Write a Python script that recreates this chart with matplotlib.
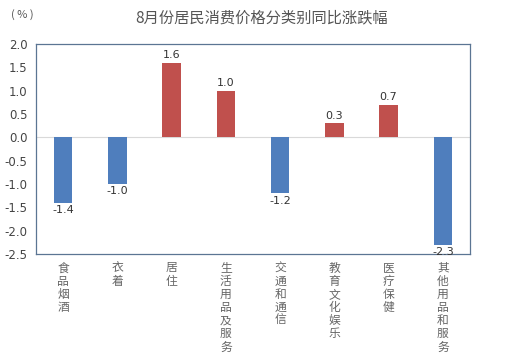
import numpy as np
import matplotlib.pyplot as plt

plt.rcParams['font.family'] = ['Noto Sans CJK SC', 'DejaVu Sans']

categories = ['食品烟酒', '衣着', '居住', '生活用品及服务', '交通和通信', '教育文化娱乐', '医疗保健', '其他用品和服务']
values = [-1.4, -1.0, 1.6, 1.0, -1.2, 0.3, 0.7, -2.3]

blue = '#4F7EBD'
red = '#C0504D'
colors = [red if v > 0 else blue for v in values]

fig = plt.figure(figsize=(5.3, 3.56), dpi=100)
ax = fig.add_axes([36 / 530, 1 - 254 / 356, 434 / 530, 210 / 356])

x = np.arange(len(categories))
ax.bar(x, values, width=0.34, color=colors, zorder=3)
ax.axhline(0, color='#d9d9d9', lw=0.8, zorder=2)

for xi, v in zip(x, values):
    if v > 0:
        ax.text(xi, v + 0.05, f'{v:.1f}', ha='center', va='bottom', fontsize=8, color='#333333',
                family='DejaVu Sans')
    else:
        ax.text(xi, v - 0.05, f'{v:.1f}', ha='center', va='top', fontsize=8, color='#333333',
                family='DejaVu Sans')

ax.set_xlim(-0.5, len(categories) - 0.5)
ax.set_ylim(-2.5, 2.0)
ax.set_yticks(np.arange(-2.5, 2.01, 0.5))
ax.set_yticklabels([f'{t:.1f}' for t in np.arange(-2.5, 2.01, 0.5)], family='DejaVu Sans')
ax.tick_params(axis='y', length=0, labelsize=8.5, labelcolor='#444444', pad=6)
ax.set_xticks([])
for s in ax.spines.values():
    s.set_color('#5b7593')
    s.set_linewidth(0.9)

for xi, c in zip(x, categories):
    ax.text(xi, -2.66, '\n'.join(c), ha='center', va='top', fontsize=8.5, color='#666666',
            linespacing=1.02)

fig.text(262 / 530, 1 - 18 / 356, '8月份居民消费价格分类别同比涨跌幅', ha='center', va='center',
         fontsize=11, color='#555555')
fig.text(22 / 530, 1 - 15 / 356, '( % )', ha='center', va='center', fontsize=8, color='#555555')

fig.savefig('out.png', dpi=100)
